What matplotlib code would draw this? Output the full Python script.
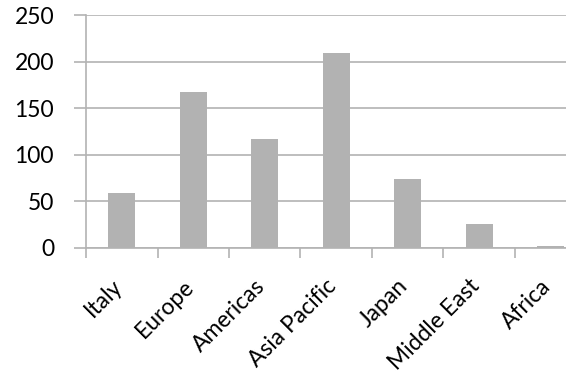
import matplotlib
matplotlib.use('Agg')
import matplotlib.pyplot as plt

regions = ['Italy', 'Europe', 'Americas', 'Asia Pacific', 'Japan', 'Middle East', 'Africa']
values = [59, 167, 117, 209, 74, 26, 2]
y_ticks = [0, 50, 100, 150, 200, 250]

plt.rcParams['font.family'] = ['Lato', 'DejaVu Sans']

fig = plt.figure(figsize=(5.66, 3.78), dpi=100)
# plot area runs past the right edge on purpose, last category is cut off
ax = fig.add_axes([0.152, 0.3447, 0.884, 0.615])

grid_col = '#b3b3b3'
ax.bar(range(len(regions)), values, width=0.38, color='#b2b2b2', zorder=2)

ax.set_xlim(-0.5, len(regions) - 0.5)
ax.set_ylim(0, 250)
ax.set_yticks(y_ticks)
ax.set_yticklabels([str(v) for v in y_ticks], fontsize=16.5)
ax.yaxis.grid(True, color=grid_col, linewidth=1.2, zorder=0)

# category boundaries carry the ticks, names sit under the centres
ax.set_xticks([i - 0.5 for i in range(len(regions))])
ax.set_xticklabels([])
for i, name in enumerate(regions):
    ax.annotate(name, xy=(i, 0), xycoords=('data', 'axes fraction'),
                xytext=(-7.5, -20), textcoords='offset points',
                rotation=45, rotation_mode='anchor', ha='right', va='top',
                fontsize=16.5, annotation_clip=False)
ax.tick_params(axis='x', length=7, width=1.2, color=grid_col)
ax.tick_params(axis='y', length=9, width=1.2, color=grid_col, pad=14)

for s in ['top', 'right']:
    ax.spines[s].set_visible(False)
for s in ['left', 'bottom']:
    ax.spines[s].set_color(grid_col)
    ax.spines[s].set_linewidth(1.2)

fig.savefig('out.png', dpi=100)
